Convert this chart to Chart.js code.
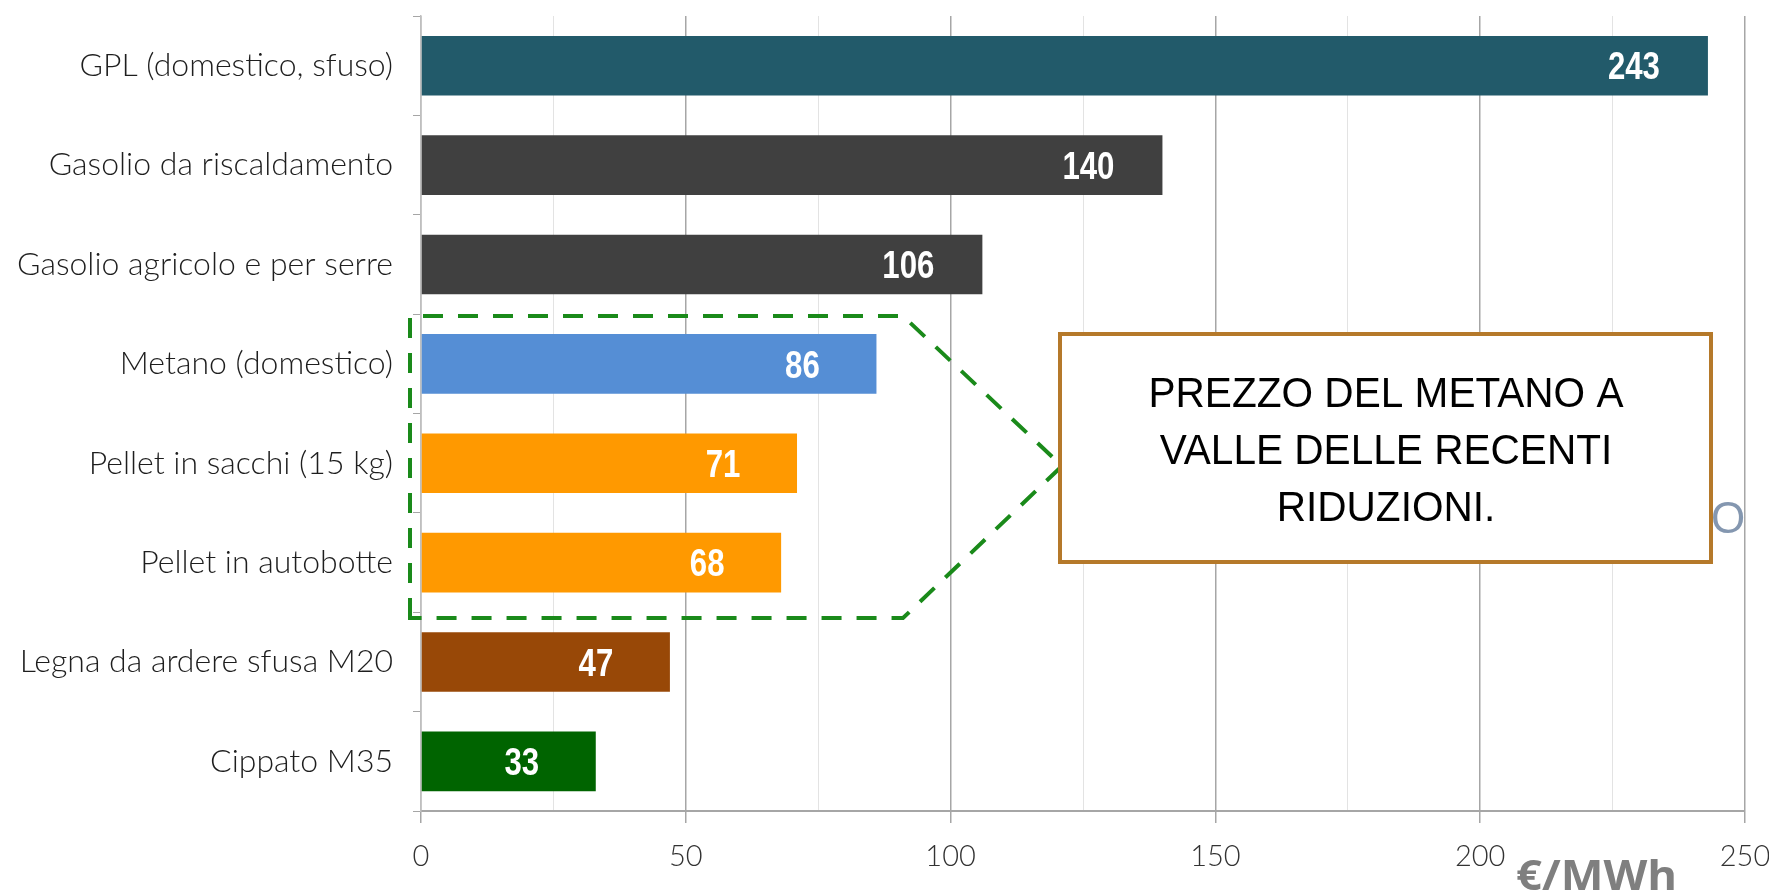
<!DOCTYPE html>
<html>
<head>
<meta charset="utf-8">
<script src="https://cdn.jsdelivr.net/npm/chart.js@4.4.1/dist/chart.umd.min.js"></script>
<style>
  html, body { margin: 0; padding: 0; background: #fff; }
</style>
</head>
<body>
<canvas id="chart" width="1769" height="894"></canvas>
<script>
const categories = [
  "GPL (domestico, sfuso)",
  "Gasolio da riscaldamento",
  "Gasolio agricolo e per serre",
  "Metano (domestico)",
  "Pellet in sacchi (15 kg)",
  "Pellet in autobotte",
  "Legna da ardere sfusa M20",
  "Cippato M35"
]
const prices = [243, 140, 106, 86, 71, 68, 47, 33]
const barColors = ["#225a6a", "#404040", "#404040", "#558ed5", "#ff9900", "#ff9900", "#984807", "#006400"]
const xTicks = [0, 50, 100, 150, 200, 250]
const noteLines = ["PREZZO DEL METANO A", "VALLE DELLE RECENTI", "RIDUZIONI."]
const unitLabel = "€/MWh"

// draw text squeezed horizontally to look like a narrow face
function narrowText(ctx, text, x, y, sx) {
  ctx.save()
  ctx.translate(x, y)
  ctx.scale(sx, 1)
  ctx.fillText(text, 0, 0)
  ctx.restore()
}

const valueLabels = {
  id: "valueLabels",
  afterDatasetsDraw(chart) {
    const ctx = chart.ctx
    const meta = chart.getDatasetMeta(0)
    ctx.save()
    ctx.fillStyle = "#ffffff"
    ctx.font = 'bold 39px "Liberation Sans", Arial, sans-serif'
    ctx.textAlign = "center"
    ctx.textBaseline = "middle"
    meta.data.forEach((bar, i) => {
      narrowText(ctx, String(prices[i]), bar.x - 74, bar.y + 3, 0.8)
    })
    ctx.restore()
  }
}

const notes = {
  id: "notes",
  afterDraw(chart) {
    const ctx = chart.ctx
    ctx.save()

    // stray "O" peeking out behind the box
    ctx.fillStyle = "#8497b0"
    ctx.font = '44px "Liberation Sans", Arial, sans-serif'
    ctx.textAlign = "center"
    ctx.textBaseline = "middle"
    ctx.fillText("O", 1728, 521)

    // green dashed arrow round the cheaper fuels
    ctx.strokeStyle = "#1a8a1a"
    ctx.lineWidth = 4
    ctx.setLineDash([20, 15])
    ctx.beginPath()
    ctx.moveTo(410, 618)
    ctx.lineTo(410, 316)
    ctx.lineTo(903, 316)
    ctx.lineTo(1062, 466)
    ctx.lineTo(903, 618)
    ctx.closePath()
    ctx.stroke()
    ctx.setLineDash([])

    // note box
    ctx.fillStyle = "#ffffff"
    ctx.fillRect(1060, 334, 651, 228)
    ctx.strokeStyle = "#b5792a"
    ctx.lineWidth = 4
    ctx.strokeRect(1060, 334, 651, 228)

    ctx.fillStyle = "#000000"
    ctx.font = '42px "Liberation Sans", Arial, sans-serif'
    const sx = 475 / ctx.measureText(noteLines[0]).width
    noteLines.forEach((t, i) => {
      narrowText(ctx, t, 1386, 395 + i * 57, sx)
    })

    // unit label
    ctx.fillStyle = "#7f7f7f"
    ctx.font = 'bold 42px "Open Sans", "Liberation Sans", sans-serif'
    ctx.textAlign = "left"
    ctx.textBaseline = "alphabetic"
    const ux = 161 / ctx.measureText(unitLabel).width
    narrowText(ctx, unitLabel, 1516, 890, ux)

    ctx.restore()
  }
}

new Chart("chart", {
  type: "bar",
  data: {
    labels: categories,
    datasets: [{
      data: prices,
      backgroundColor: barColors,
      borderWidth: 0,
      barPercentage: 0.6,
      categoryPercentage: 1
    }]
  },
  options: {
    indexAxis: "y",
    responsive: false,
    animation: false,
    layout: { padding: { top: 16, right: 24, left: 0, bottom: 0 } },
    plugins: {
      legend: { display: false },
      tooltip: { enabled: false }
    },
    scales: {
      x: {
        type: "linear",
        min: 0,
        max: 250,
        afterFit: (s) => {
          s.height = 83
          s.paddingLeft = 0
          s.paddingRight = 0
        },
        ticks: {
          stepSize: 25,
          autoSkip: false,
          maxRotation: 0,
          padding: 16,
          color: "#333333",
          font: { family: "Lato", weight: "300", size: 29 },
          callback: (v) => xTicks.includes(v) ? String(v) : ""
        },
        grid: {
          color: (c) => xTicks.includes(c.tick.value) ? "#a6a6a6" : "#e3e3e3",
          lineWidth: (c) => xTicks.includes(c.tick.value) ? 1.5 : 1,
          tickColor: (c) => xTicks.includes(c.tick.value) ? "#a6a6a6" : "rgba(0,0,0,0)",
          tickLength: 12
        },
        border: { color: "#a6a6a6", width: 2 }
      },
      y: {
        afterFit: (s) => {
          s.width = 421
          s.paddingTop = 0
          s.paddingBottom = 0
        },
        ticks: {
          padding: 20,
          color: "#1e1e1e",
          font: { family: "Lato", weight: "300", size: 32 }
        },
        grid: {
          drawOnChartArea: false,
          offset: true,
          tickLength: 8,
          tickColor: "#a6a6a6"
        },
        border: { color: "#bfbfbf", width: 1.5 }
      }
    }
  },
  plugins: [valueLabels, notes]
})
</script>
</body>
</html>
